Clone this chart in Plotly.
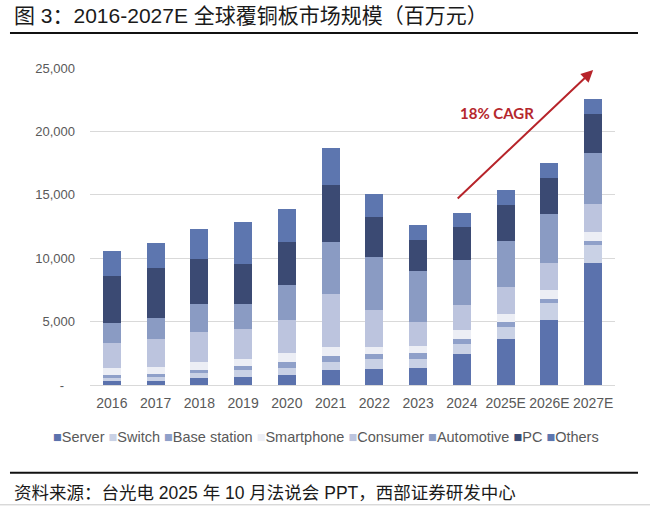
import plotly.graph_objects as go

# 全球覆铜板市场规模（百万元），按应用拆分
years = ["2016", "2017", "2018", "2019", "2020", "2021", "2022", "2023",
         "2024", "2025E", "2026E", "2027E"]

server = [310, 340, 520, 650, 790, 1180, 1260, 1360, 2410, 3590, 5160, 9620]
switch = [210, 260, 400, 530, 520, 650, 760, 730, 860, 990, 1310, 1440]
base_station = [270, 260, 260, 310, 520, 450, 390, 450, 390, 390, 340, 270]
smartphone = [520, 580, 650, 600, 660, 680, 550, 520, 660, 660, 650, 700]
consumer = [2040, 2150, 2360, 2360, 2610, 4240, 2930, 1910, 1960, 2090, 2170, 2280]
automotive = [1550, 1720, 2220, 1910, 2800, 4060, 4190, 4060, 3590, 3670, 3850, 4000]
pc = [3690, 3930, 3490, 3190, 3360, 4530, 3190, 2410, 2560, 2800, 2880, 3090]
others = [2010, 1940, 2400, 3280, 2610, 2930, 1780, 1200, 1130, 1180, 1180, 1180]

series_names = ["Server", "Switch", "Base station", "Smartphone", "Consumer",
                "Automotive", "PC", "Others"]
series_values = [server, switch, base_station, smartphone, consumer,
                 automotive, pc, others]
colors = ["#5b72ad", "#c9d1e5", "#8fa0c9", "#eceef5", "#bcc4de",
          "#8a9bc3", "#3b4a73", "#5d76af"]

y_ticks = [0, 5000, 10000, 15000, 20000, 25000]
y_ticktext = ["-\u00a0\u00a0\u00a0", "5,000", "10,000", "15,000", "20,000", "25,000"]

font_family = "Liberation Sans, Arial, Noto Sans CJK SC"

fig = go.Figure()
for name, vals, col in zip(series_names, series_values, colors):
    fig.add_trace(go.Bar(x=years, y=vals, name=name, marker_color=col,
                         marker_line_width=0))

# legend drawn as one line of text with coloured squares
legend_text = " ".join(
    f"<span style='color:{c}'>■</span>{n}" for n, c in zip(series_names, colors)
)

fig.update_layout(
    width=650, height=507,
    barmode="stack", bargap=0.59,
    showlegend=False,
    plot_bgcolor="white", paper_bgcolor="white",
    margin=dict(l=90, r=35, t=68, b=122),
    font=dict(family=font_family, color="#595959"),
    xaxis=dict(tickfont=dict(size=14, color="#595959"), showline=True,
               linecolor="#d9d9d9", ticks="", ticklabelstandoff=5),
    yaxis=dict(range=[0, 25000], tickvals=y_ticks, ticktext=y_ticktext,
               tickfont=dict(size=13, color="#595959"), gridcolor="#d9d9d9",
               zeroline=False, ticks="", ticklabelstandoff=14),
)

# title, rules and source
fig.add_annotation(text="图 3：2016-2027E 全球覆铜板市场规模（百万元）",
                   xref="paper", yref="paper", x=-0.1486, y=1.167,
                   xanchor="left", yanchor="middle", showarrow=False,
                   font=dict(size=21, color="#1a1a1a", family=font_family))
fig.add_shape(type="line", xref="paper", yref="paper", x0=-0.1524, x1=1.0438,
              y0=1.1104, y1=1.1104, line=dict(color="#111111", width=2))
fig.add_shape(type="line", xref="paper", yref="paper", x0=-0.1524, x1=1.0438,
              y0=-0.2767, y1=-0.2767, line=dict(color="#111111", width=2))
fig.add_annotation(text="资料来源：台光电 2025 年 10 月法说会 PPT，西部证券研发中心",
                   xref="paper", yref="paper", x=-0.1486, y=-0.3407,
                   xanchor="left", yanchor="middle", showarrow=False,
                   font=dict(size=17.5, color="#1a1a1a", family=font_family))
fig.add_annotation(text=legend_text, xref="paper", yref="paper",
                   x=0.4495, y=-0.164, xanchor="center", yanchor="middle",
                   showarrow=False,
                   font=dict(size=14.5, color="#595959", family=font_family))

# CAGR arrow
fig.add_annotation(x=11.0, y=24840, ax=7.87, ay=14590,
                   xref="x", yref="y", axref="x", ayref="y",
                   showarrow=True, arrowhead=2, arrowsize=1.2, arrowwidth=2,
                   arrowcolor="#b7242a", text="")
fig.add_annotation(x=8.8, y=21450, xref="x", yref="y", text="<b>18% CAGR</b>",
                   showarrow=False,
                   font=dict(size=15, color="#b5272d", family="Lato, Liberation Sans"))

# thin frame edges
fig.add_shape(type="line", xref="paper", yref="paper", x0=1.0914, x1=1.0914,
              y0=-0.378, y1=1.2146, line=dict(color="#c8c8c8", width=1))
fig.add_shape(type="line", xref="paper", yref="paper", x0=-0.2839, x1=1.0914,
              y0=-0.378, y1=-0.378, line=dict(color="#c8c8c8", width=1))

# drop the default 8px body margin so the figure fills the window
fig.write_html("out.html", config={"displayModeBar": False},
               post_script="document.body.style.margin='0';")
